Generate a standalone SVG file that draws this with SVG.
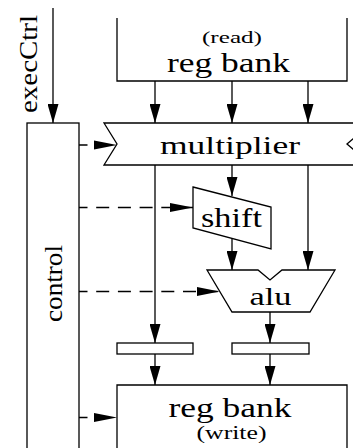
<svg xmlns="http://www.w3.org/2000/svg" width="353" height="448" viewBox="0 0 353 448">
<style>
.s{fill:none;stroke:#000;stroke-width:1.3}
.box{fill:#fff;stroke:#000;stroke-width:1.3}
.t{font-family:"Liberation Serif","Times New Roman",serif;fill:#000;text-anchor:middle}
.d{stroke-dasharray:13 8.7;stroke-dashoffset:4.5}
</style>
<defs>
<marker id="av" markerUnits="userSpaceOnUse" viewBox="0 0 19 11" markerWidth="19" markerHeight="11" refX="19" refY="5.5" orient="auto"><path d="M0,0L19,5.5L0,11z" fill="#000"/></marker>
<marker id="ah" markerUnits="userSpaceOnUse" viewBox="0 0 23 10" markerWidth="23" markerHeight="10" refX="23" refY="5" orient="auto"><path d="M0,0.5L23,5L0,9.5z" fill="#000"/></marker>
</defs>
<g id="execCtrl">
<text class="t" font-size="26" transform="translate(37.3,64) rotate(-90)" textLength="98" lengthAdjust="spacingAndGlyphs">execCtrl</text>
</g>
<g id="regread">
<path class="s" d="M117,18V81H347V18"/>
<text class="t" x="232" y="43" font-size="17.5" textLength="60" lengthAdjust="spacingAndGlyphs">(read)</text>
<text class="t" x="228.5" y="71.5" font-size="27.5" textLength="123" lengthAdjust="spacingAndGlyphs">reg bank</text>
</g>
<g id="control">
<rect class="box" x="27" y="123" width="52" height="345"/>
<text class="t" font-size="26" transform="translate(61.5,283.5) rotate(-90)" textLength="77" lengthAdjust="spacingAndGlyphs">control</text>
</g>
<g id="multiplier">
<polygon class="box" points="104,123 372,123 347,144 372,165 104,165 117,144"/>
<text class="t" x="230" y="154" font-size="26" textLength="140" lengthAdjust="spacingAndGlyphs">multiplier</text>
</g>
<g id="shift">
<polygon class="box" points="193,187 271,207 271,249 193,228"/>
<text class="t" x="231.5" y="227" font-size="27" textLength="61" lengthAdjust="spacingAndGlyphs">shift</text>
</g>
<g id="alu">
<polygon class="box" points="207,270 258,270 270,280 282,270 335,270 310,312 232,312"/>
<text class="t" x="270.5" y="305" font-size="26" textLength="42" lengthAdjust="spacingAndGlyphs">alu</text>
</g>
<g id="latch1"><rect class="box" x="117" y="343" width="76" height="11"/></g>
<g id="latch2"><rect class="box" x="232" y="343" width="77" height="11"/></g>
<g id="regwrite">
<path class="s" d="M117,460V385H347V460"/>
<text class="t" x="230" y="416.5" font-size="27.5" textLength="123" lengthAdjust="spacingAndGlyphs">reg bank</text>
<text class="t" x="231.5" y="439" font-size="18" textLength="70" lengthAdjust="spacingAndGlyphs">(write)</text>
</g>
<g id="connectors">
<line class="s" x1="53" y1="8" x2="53" y2="123" marker-end="url(#av)"/>
<line class="s" x1="155" y1="81" x2="155" y2="123" marker-end="url(#av)"/>
<line class="s" x1="232" y1="81" x2="232" y2="123" marker-end="url(#av)"/>
<line class="s" x1="308" y1="81" x2="308" y2="123" marker-end="url(#av)"/>
<line class="s" x1="155" y1="165" x2="155" y2="343" marker-end="url(#av)"/>
<line class="s" x1="232" y1="165" x2="232" y2="196" marker-end="url(#av)"/>
<line class="s" x1="308" y1="165" x2="308" y2="270" marker-end="url(#av)"/>
<line class="s" x1="232" y1="238.5" x2="232" y2="270" marker-end="url(#av)"/>
<line class="s" x1="270" y1="312" x2="270" y2="343" marker-end="url(#av)"/>
<line class="s" x1="155" y1="354" x2="155" y2="385" marker-end="url(#av)"/>
<line class="s" x1="270" y1="354" x2="270" y2="385" marker-end="url(#av)"/>
<line class="s d" x1="79" y1="145" x2="117" y2="145" marker-end="url(#ah)"/>
<line class="s d" x1="79" y1="207.5" x2="193" y2="207.5" marker-end="url(#ah)"/>
<line class="s d" x1="79" y1="291.5" x2="219.5" y2="291.5" marker-end="url(#ah)"/>
<line class="s d" x1="79" y1="417.5" x2="117" y2="417.5" marker-end="url(#ah)"/>
</g>
</svg>
